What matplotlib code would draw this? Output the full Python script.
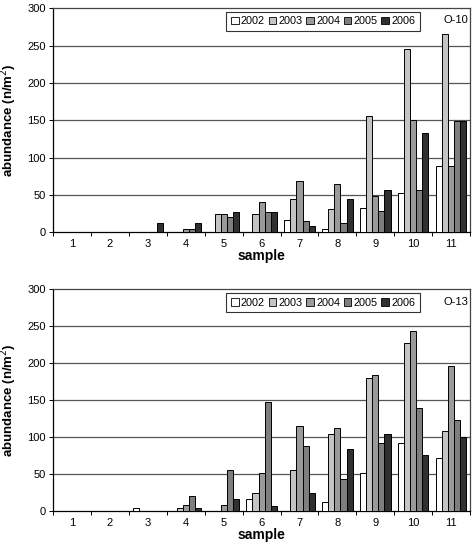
import numpy as np
import matplotlib
matplotlib.use("Agg")
import matplotlib.pyplot as plt

plt.rcParams['font.family'] = ['Liberation Sans', 'DejaVu Sans']

# 표본 번호와 연도
samples = ["1", "2", "3", "4", "5", "6", "7", "8", "9", "10", "11"]
years = ["2002", "2003", "2004", "2005", "2006"]
yticks = [0, 50, 100, 150, 200, 250, 300]

# O-10 지점 (연도별)
o10_2002 = [0, 0, 0, 0, 0, 0, 16, 4, 32, 52, 88]
o10_2003 = [0, 0, 0, 0, 24, 24, 44, 31, 156, 245, 265]
o10_2004 = [0, 0, 0, 4, 24, 40, 68, 64, 48, 150, 88]
o10_2005 = [0, 0, 0, 4, 20, 27, 15, 12, 28, 56, 149]
o10_2006 = [0, 0, 12, 12, 27, 27, 8, 44, 56, 133, 149]

# O-13 지점 (연도별)
o13_2002 = [0, 0, 4, 0, 0, 16, 0, 12, 52, 92, 72]
o13_2003 = [0, 0, 0, 4, 0, 24, 56, 104, 180, 228, 108]
o13_2004 = [0, 0, 0, 8, 8, 52, 115, 112, 184, 244, 197]
o13_2005 = [0, 0, 0, 20, 56, 148, 88, 44, 92, 140, 124]
o13_2006 = [0, 0, 0, 4, 16, 7, 24, 84, 104, 76, 100]

colors = ["#ffffff", "#c4c4c4", "#9a9a9a", "#7e7e7e", "#303030"]


def draw_panel(ax, series, site):
    x = np.arange(len(samples))
    w = 0.16
    for i, (vals, yr) in enumerate(zip(series, years)):
        ax.bar(x + (i - 2) * w, vals, width=w, color=colors[i],
               edgecolor="black", linewidth=0.7, label=yr, zorder=3)

    ax.set_xlim(-0.5, len(samples) - 0.5)
    ax.set_ylim(0, 300)
    ax.set_yticks(yticks)
    ax.tick_params(axis="y", labelsize=8, length=3, width=0.7, pad=2)
    for yv in yticks[1:-1]:
        ax.axhline(yv, color="#555555", linewidth=0.9, zorder=1)

    # 눈금은 그룹 경계에, 라벨은 가운데에
    ax.set_xticks(np.arange(-0.5, len(samples), 1.0))
    ax.set_xticklabels([])
    ax.tick_params(axis="x", which="major", length=3, width=0.7)
    ax.set_xticks(x, minor=True)
    ax.set_xticklabels(samples, minor=True, fontsize=8)
    ax.tick_params(axis="x", which="minor", length=0, pad=5)

    for s in ["left", "bottom"]:
        ax.spines[s].set_color("black")
        ax.spines[s].set_linewidth(0.9)
    for s in ["top", "right"]:
        ax.spines[s].set_color("#444444")
        ax.spines[s].set_linewidth(0.9)

    ax.set_xlabel("sample", fontsize=10, fontweight="bold", labelpad=0)
    ax.set_ylabel("abundance (n/m$^2$)", fontsize=9.5, fontweight="bold", labelpad=6)

    leg = ax.legend(loc="upper right", bbox_to_anchor=(0.88, 0.985), ncol=5,
                    fontsize=7.8, frameon=True, fancybox=False, handlelength=0.7,
                    handleheight=0.7, handletextpad=0.2, columnspacing=0.35,
                    borderpad=0.45, borderaxespad=0)
    leg.get_frame().set_edgecolor("black")
    leg.get_frame().set_linewidth(0.8)
    for h in leg.legend_handles:
        h.set_linewidth(0.6)

    ax.text(0.965, 0.945, site, transform=ax.transAxes, fontsize=8,
            ha="center", va="center")


fig = plt.figure(figsize=(4.73, 5.45), dpi=100)
ax1 = fig.add_axes([0.112, 0.574, 0.882, 0.411])
ax2 = fig.add_axes([0.112, 0.062, 0.882, 0.407])

draw_panel(ax1, [o10_2002, o10_2003, o10_2004, o10_2005, o10_2006], "O-10")
draw_panel(ax2, [o13_2002, o13_2003, o13_2004, o13_2005, o13_2006], "O-13")

fig.savefig("out.png", dpi=100)
